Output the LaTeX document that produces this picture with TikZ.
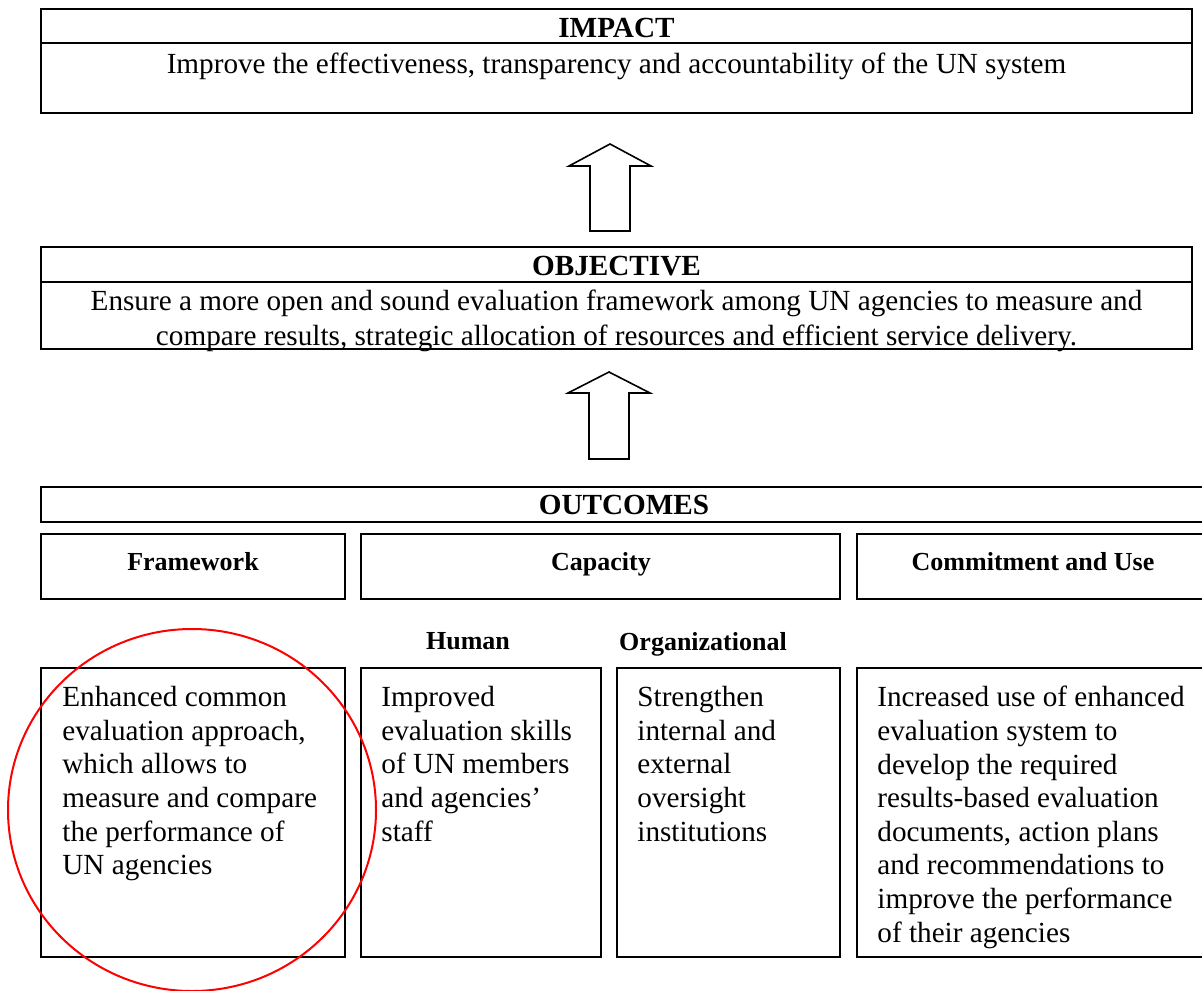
\documentclass[tikz,border=0pt]{standalone}
\usepackage{fontspec}
\setmainfont{Liberation Serif}
\begin{document}
\begin{tikzpicture}[x=0.5pt,y=-0.5pt,
  frame/.style={draw=black, line width=1.2pt},
  head/.style={font=\fontsize{14.6}{16.8}\selectfont\bfseries, inner sep=0pt},
  body/.style={font=\fontsize{14.6}{17.2}\selectfont, inner sep=0pt},
  sub/.style={font=\fontsize{13}{15.6}\selectfont\bfseries, inner sep=0pt},
  para/.style={font=\fontsize{14.6}{16.8}\selectfont, inner sep=0pt, align=left, anchor=north west},
  blockarrow/.style={draw=black, line width=0.8pt, fill=white, line join=miter}]
\useasboundingbox (0,0) rectangle (1202,990);
\path[fill=white] (0,0) rectangle (1202,990);

% IMPACT
\draw[frame] (41,9) rectangle (1192,113);
\draw[frame] (41,43) -- (1192,43);
\node[head] (impactT) at (616.5,28) {IMPACT};
\node[body] (impactB) at (616.5,66) {Improve the effectiveness, transparency and accountability of the UN system};

% arrow 1
\coordinate (a1) at (610,144);
\draw[blockarrow] (a1) -- (651,166) -- (630,166) -- (630,231) -- (590,231) -- (590,166) -- (569,166) -- cycle;

% OBJECTIVE
\draw[frame] (41,247) rectangle (1192,349);
\draw[frame] (41,282) -- (1192,282);
\node[head] (objT) at (616.5,266) {OBJECTIVE};
\node[body, align=center] (objB) at (616.5,321) {Ensure a more open and sound evaluation framework among UN agencies to measure and\\compare results, strategic allocation of resources and efficient service delivery.};

% arrow 2
\coordinate (a2) at (609,372);
\draw[blockarrow] (a2) -- (650,393) -- (629,393) -- (629,459) -- (589,459) -- (589,393) -- (568,393) -- cycle;

% OUTCOMES
\draw[frame] (41,487) rectangle (1215,522);
\node[head] (outT) at (624,505) {OUTCOMES};

\draw[frame] (41,534) rectangle (345,599);
\draw[frame] (361,534) rectangle (840,599);
\draw[frame] (857,534) rectangle (1215,599);
\node[sub] (fw) at (193,562) {Framework};
\node[sub] (cap) at (601,564) {Capacity};
\node[sub] (com) at (1033,562) {Commitment and Use};

\node[sub] (hum) at (468,641) {Human};
\node[sub] (org) at (703,644) {Organizational};

\draw[frame] (41,668) rectangle (345,957);
\draw[frame] (361,668) rectangle (601,957);
\draw[frame] (617,668) rectangle (840,957);
\draw[frame] (857,668) rectangle (1215,957);

\node[para] (t1) at (62,686) {Enhanced common\\evaluation approach,\\which allows to\\measure and compare\\the performance of\\UN agencies};
\node[para] (t2) at (381,686) {Improved\\evaluation skills\\of UN members\\and agencies’\\staff};
\node[para] (t3) at (637,686) {Strengthen\\internal and\\external\\oversight\\institutions};
\node[para] (t4) at (877,686) {Increased use of enhanced\\evaluation system to\\develop the required\\results-based evaluation\\documents, action plans\\and recommendations to\\improve the performance\\of their agencies};

% red circle
\draw[red, line width=1pt] (192,810) ellipse [x radius=92pt, y radius=90.5pt];
\end{tikzpicture}
\end{document}
